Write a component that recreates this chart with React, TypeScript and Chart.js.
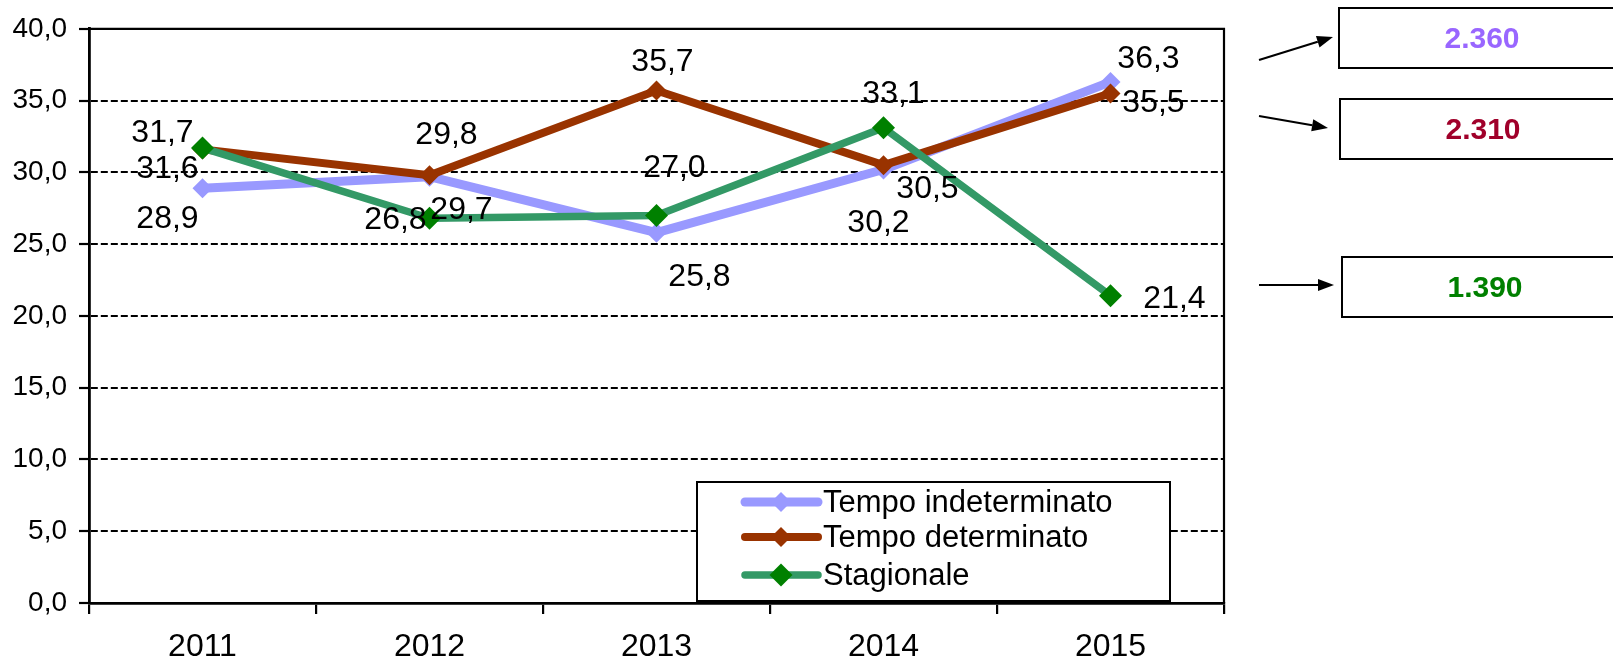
import { useEffect, useRef } from 'react';
import { Chart, registerables } from 'chart.js';

Chart.register(...registerables);

const FONT = "'Liberation Sans', Arial, sans-serif";

// ---- data ----
const years = ['2011', '2012', '2013', '2014', '2015'];
const tempoIndeterminato = [28.9, 29.7, 25.8, 30.2, 36.3];
const tempoDeterminato = [31.6, 29.8, 35.7, 30.5, 35.5];
const stagionale = [31.7, 26.8, 27.0, 33.1, 21.4];
const seriesNames = ['Tempo indeterminato', 'Tempo determinato', 'Stagionale'];
const totals = ['2.360', '2.310', '1.390'];

// ---- styling / layout ----
const lineColors = ['#9999FF', '#993300', '#339966'];
const markerColors = ['#9999FF', '#993300', '#008000'];
const totalColors = ['#9966FF', '#A0002A', '#008000'];

// data-label offsets (px) relative to each point
const labelOffsets = [
  [[-35, 31], [32, 34], [43, 45], [-5, 54], [38, -23]],
  [[-35, 20], [17, -40], [6, -28], [44, 24], [43, 10]],
  [[-40, -15], [-34, 2], [18, -47], [10, -34], [64, 3]],
];

const fmt = (v: number) => Number(v).toFixed(1).replace('.', ',');

const overlayPlugin = {
  id: 'overlay',
  afterDraw(chart: any) {
    const ctx: CanvasRenderingContext2D = chart.ctx;
    const { left, top, right, bottom } = chart.chartArea;
    ctx.save();

    // top & right frame
    ctx.strokeStyle = '#000';
    ctx.lineWidth = 2.2;
    ctx.setLineDash([]);
    ctx.beginPath();
    ctx.moveTo(left, top);
    ctx.lineTo(right, top);
    ctx.lineTo(right, bottom);
    ctx.stroke();

    // data labels
    ctx.font = `32px ${FONT}`;
    ctx.fillStyle = '#000';
    ctx.textAlign = 'center';
    ctx.textBaseline = 'middle';
    chart.data.datasets.forEach((ds: any, di: number) => {
      const meta = chart.getDatasetMeta(di);
      meta.data.forEach((pt: any, i: number) => {
        const [dx, dy] = labelOffsets[di][i];
        ctx.fillText(fmt(ds.data[i]), pt.x + dx, pt.y + dy);
      });
    });

    // legend
    const lx = 697, ly = 482, lw = 473, lh = 119;
    ctx.fillStyle = '#fff';
    ctx.fillRect(lx, ly, lw, lh);
    ctx.strokeStyle = '#000';
    ctx.lineWidth = 2;
    ctx.strokeRect(lx, ly, lw, lh);
    const rows = [502, 537, 575];
    chart.data.datasets.forEach((ds: any, di: number) => {
      const y = rows[di];
      ctx.strokeStyle = ds.borderColor;
      ctx.lineWidth = ds.borderWidth;
      ctx.lineCap = 'round';
      ctx.beginPath();
      ctx.moveTo(745, y);
      ctx.lineTo(818, y);
      ctx.stroke();
      const r = ds.pointRadius;
      ctx.fillStyle = ds.pointBackgroundColor;
      ctx.beginPath();
      ctx.moveTo(781, y - r);
      ctx.lineTo(781 + r, y);
      ctx.lineTo(781, y + r);
      ctx.lineTo(781 - r, y);
      ctx.closePath();
      ctx.fill();
      ctx.fillStyle = '#000';
      ctx.font = `31px ${FONT}`;
      ctx.textAlign = 'left';
      ctx.textBaseline = 'middle';
      ctx.fillText(ds.label, 823, y + 1);
    });

    // totals boxes with arrows
    const boxes = [
      { x: 1339, y: 8, tx: 1482, ty: 39, a: [1259, 60, 1333, 37] },
      { x: 1340, y: 99, tx: 1483, ty: 130, a: [1259, 116, 1328, 128] },
      { x: 1342, y: 257, tx: 1485, ty: 288, a: [1259, 285, 1334, 285] },
    ];
    boxes.forEach((b, i) => {
      ctx.strokeStyle = '#000';
      ctx.lineWidth = 2;
      ctx.strokeRect(b.x, b.y, 320, 60);
      ctx.fillStyle = totalColors[i];
      ctx.font = `bold 30px ${FONT}`;
      ctx.textAlign = 'center';
      ctx.textBaseline = 'middle';
      ctx.fillText(totals[i], b.tx, b.ty + 1);
      const [x1, y1, x2, y2] = b.a;
      const ang = Math.atan2(y2 - y1, x2 - x1);
      const hl = 16, hw = 6;
      const bx = x2 - hl * Math.cos(ang), by = y2 - hl * Math.sin(ang);
      ctx.lineCap = 'butt';
      ctx.lineWidth = 2.2;
      ctx.beginPath();
      ctx.moveTo(x1, y1);
      ctx.lineTo(bx, by);
      ctx.stroke();
      ctx.fillStyle = '#000';
      ctx.beginPath();
      ctx.moveTo(x2, y2);
      ctx.lineTo(bx + hw * Math.sin(ang), by - hw * Math.cos(ang));
      ctx.lineTo(bx - hw * Math.sin(ang), by + hw * Math.cos(ang));
      ctx.closePath();
      ctx.fill();
    });

    ctx.restore();
  },
};

export default function App() {
  const ref = useRef<HTMLCanvasElement | null>(null);

  useEffect(() => {
    document.body.style.margin = '0';
    document.body.style.overflow = 'hidden';
    const canvas = ref.current;
    if (!canvas) return;
    const mk = (i: number, data: number[], width: number, radius: number, order: number) => ({
      label: seriesNames[i],
      data,
      borderColor: lineColors[i],
      backgroundColor: markerColors[i],
      borderWidth: width,
      borderJoinStyle: 'round',
      borderCapStyle: 'round',
      pointStyle: 'rectRot',
      pointRadius: radius,
      pointBorderWidth: 0,
      pointBackgroundColor: markerColors[i],
      pointBorderColor: markerColors[i],
      tension: 0,
      order,
      clip: false,
    });
    const chart = new Chart(canvas, {
      type: 'line',
      data: {
        labels: years,
        datasets: [
          mk(0, tempoIndeterminato, 9, 10, 2),
          mk(1, tempoDeterminato, 8, 10, 1),
          mk(2, stagionale, 7.5, 11.5, 0),
        ] as any,
      },
      options: {
        animation: false,
        responsive: false,
        devicePixelRatio: 1,
        layout: { padding: { top: 28, right: 389, left: 0, bottom: 0 } },
        plugins: { legend: { display: false }, tooltip: { enabled: false } },
        events: [],
        scales: {
          x: {
            type: 'category',
            offset: true,
            grid: {
              display: true,
              drawOnChartArea: false,
              drawTicks: true,
              tickLength: 11,
              offset: true,
              color: '#000',
              lineWidth: 2.2,
            },
            border: { display: true, color: '#000', width: 2.8 },
            ticks: { color: '#000', font: { family: FONT, size: 32 }, padding: 14, maxRotation: 0, autoSkip: false },
            afterFit: (s: any) => { s.height = 56; },
          },
          y: {
            min: 0,
            max: 40,
            ticks: {
              stepSize: 5,
              color: '#000',
              font: { family: FONT, size: 28 },
              padding: 12,
              callback: (v: any) => fmt(v),
            },
            grid: { color: '#000', lineWidth: 2, tickLength: 10, tickColor: '#000', tickWidth: 2.2 },
            border: { display: true, color: '#000', width: 2.8, dash: [7, 3] },
            afterFit: (s: any) => { s.width = 89; },
          },
        },
      } as any,
      plugins: [overlayPlugin],
    });
    return () => chart.destroy();
  }, []);

  return (
    <div style={{ position: 'absolute', left: 0, top: 0, width: 1613, height: 659, overflow: 'hidden', background: '#fff' }}>
      <canvas ref={ref} width={1613} height={659} style={{ display: 'block', width: 1613, height: 659 }} />
    </div>
  );
}
